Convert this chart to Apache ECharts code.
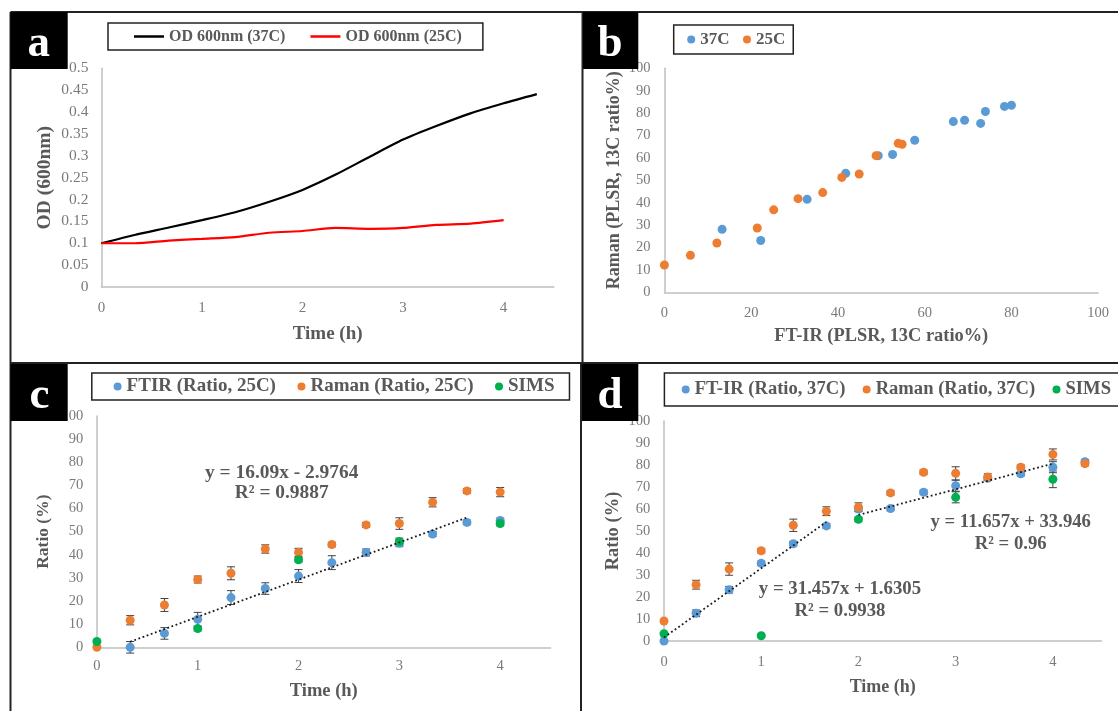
<!DOCTYPE html>
<html>
<head>
<meta charset="utf-8">
<title>Growth and 13C ratio</title>
<script src="https://cdn.jsdelivr.net/npm/echarts@6/dist/echarts.min.js"></script>
<style>
  html, body { margin: 0; padding: 0; background: #fff; }
  #main { width: 1118px; height: 711px; }
</style>
</head>
<body>
<div id="main"></div>
<script>
// shared time points (h)
const hours = [0, 0.33, 0.67, 1, 1.33, 1.67, 2, 2.33, 2.67, 3, 3.33, 3.67, 4, 4.33];
const simsHours = [0, 1, 2, 3, 4];

// panel a
const od37 = [0.1, 0.119, 0.136, 0.153, 0.171, 0.195, 0.222, 0.257, 0.298, 0.337, 0.368, 0.397, 0.42, 0.441];
const od25 = [0.1, 0.1, 0.106, 0.11, 0.114, 0.124, 0.128, 0.135, 0.133, 0.135, 0.142, 0.145, 0.153];

// panel b
const ftir37 = [13.3, 22.2, 32.9, 41.8, 49.3, 52.6, 57.7, 66.6, 69.2, 72.9, 74, 78.4, 80];
const raman37 = [28.1, 23.1, 41.5, 53.1, 61, 61.5, 67.9, 76.2, 76.8, 75.4, 80.7, 83, 83.5];
const ftir25 = [0, 6, 12.1, 21.4, 25.2, 30.8, 36.5, 40.9, 44.9, 48.8, 53.9, 54.8];
const raman25 = [12.2, 16.5, 22, 28.7, 36.8, 41.8, 44.5, 51.3, 52.8, 61, 66.5, 66.1];

// panel c
const cFtir = [null, 0, 6, 12.1, 21.5, 25.4, 30.8, 36.6, 41, 45, 49, 54, 54.8];
const cFtirErr = [null, 2.5, 2.5, 3, 3, 2.5, 2.8, 3, 1.5, 1.5, 1, 1, 1];
const cRaman = [0, 11.7, 18.3, 29.3, 32, 42.5, 41, 44.4, 52.9, 53.5, 62.7, 67.6, 67.1];
const cRamanErr = [0, 2, 2.8, 1.5, 2.8, 1.8, 1.8, 1, 1, 2.5, 2, 1, 2];
const cSims = [2.5, 8.1, 37.8, 45.7, 53.5];
const cSimsErr = [0, 1, 1, 1.5, 1];
const cTrendX = [0.33, 3.67];
const cTrendY = [2.4, 56.1];

// panel d
const dFtir = [0, 12.6, 23.3, 35.3, 44.2, 52.3, 60, 60.2, 67.6, 70.6, 74, 76, 79, 81.5];
const dFtirErr = [0, 1.5, 1.5, 1, 1, 1, 1, 1, 1, 2.5, 1, 1, 2.5, 1];
const dRaman = [9.1, 25.6, 32.7, 41, 52.6, 59, 60.8, 67.3, 76.7, 76.2, 74.5, 79, 84.8, 80.6];
const dRamanErr = [0, 2, 2.8, 1, 2.8, 2, 2, 1, 1, 3, 1.5, 1, 2.5, 1];
const dSims = [3.3, 2.4, 55.3, 65.3, 73.5];
const dSimsErr = [0, 0.5, 1, 2.5, 3.8];
const dTrend1X = [0, 1.67];
const dTrend1Y = [1.63, 54.1];
const dTrend2X = [2, 4];
const dTrend2Y = [57.3, 80.6];

const BLUE = '#5B9BD5';
const ORANGE = '#ED7D31';
const GREEN = '#00B050';
const FONT = '"Liberation Serif", serif';
const TICK_COLOR = '#7a7a7a';
const TITLE_COLOR = '#595959';

function zip(xs, ys) {
    const out = [];
    for (let i = 0; i < ys.length; i++) {
        if (ys[i] !== null) out.push([xs[i], ys[i]]);
    }
    return out;
}

function zipErr(xs, ys, errs) {
    const out = [];
    for (let i = 0; i < ys.length; i++) {
        if (ys[i] !== null && errs[i] > 0) out.push([xs[i], ys[i], errs[i]]);
    }
    return out;
}

// whisker with a cap on both ends, in data coordinates
function errorBar(params, api) {
    const x = api.value(0), y = api.value(1), e = api.value(2);
    const hi = api.coord([x, y + e]);
    const lo = api.coord([x, y - e]);
    const cap = 4;
    const style = { stroke: '#404040', lineWidth: 1, fill: null };
    return {
        type: 'group',
        children: [
            { type: 'line', shape: { x1: hi[0], y1: hi[1], x2: lo[0], y2: lo[1] }, style: style },
            { type: 'line', shape: { x1: hi[0] - cap, y1: hi[1], x2: hi[0] + cap, y2: hi[1] }, style: style },
            { type: 'line', shape: { x1: lo[0] - cap, y1: lo[1], x2: lo[0] + cap, y2: lo[1] }, style: style }
        ]
    };
}

function errSeries(idx, data) {
    return {
        type: 'custom', xAxisIndex: idx, yAxisIndex: idx, data: data,
        renderItem: errorBar, encode: { x: 0, y: 1 }, z: 2, silent: true, clip: false
    };
}

function dots(idx, name, color, data) {
    return {
        type: 'scatter', name: name, xAxisIndex: idx, yAxisIndex: idx, data: data,
        symbolSize: 9, itemStyle: { color: color, opacity: 1 }, z: 3, clip: false
    };
}

function growth(idx, name, color, data) {
    return {
        type: 'line', name: name, xAxisIndex: idx, yAxisIndex: idx, data: data,
        smooth: 0.25, symbol: 'none', showSymbol: false,
        lineStyle: { color: color, width: 2.2 }, itemStyle: { color: color }, z: 3
    };
}

function trend(idx, xs, ys) {
    return {
        type: 'line', xAxisIndex: idx, yAxisIndex: idx, data: zip(xs, ys),
        symbol: 'none', lineStyle: { color: '#1a1a1a', width: 1.8, type: [1.8, 2.6] }, z: 4, silent: true
    };
}

function xAxis(idx, name, max, interval, gap, nameSize, tickSize, margin) {
    return {
        type: 'value', gridIndex: idx, min: 0, max: max, interval: interval,
        name: name, nameLocation: 'middle', nameGap: gap,
        nameTextStyle: { fontFamily: FONT, fontWeight: 'bold', fontSize: nameSize, color: TITLE_COLOR },
        axisLine: { show: true, onZero: false, lineStyle: { color: '#bfbfbf', width: 1.5 } },
        axisTick: { show: false },
        splitLine: { show: false },
        axisLabel: { fontFamily: FONT, fontSize: tickSize, color: TICK_COLOR, margin: margin, showMaxLabel: max === 100 }
    };
}

function yAxis(idx, name, max, interval, gap, nameSize, tickSize, margin) {
    return {
        type: 'value', gridIndex: idx, min: 0, max: max, interval: interval,
        name: name, nameLocation: 'middle', nameGap: gap,
        nameTextStyle: { fontFamily: FONT, fontWeight: 'bold', fontSize: nameSize, color: TITLE_COLOR },
        axisLine: { show: true, onZero: false, lineStyle: { color: '#bfbfbf', width: 1.5 } },
        axisTick: { show: false },
        splitLine: { show: false },
        axisLabel: { fontFamily: FONT, fontSize: tickSize, color: TICK_COLOR, margin: margin }
    };
}

function legendBox(left, top, padding, gap, fontSize, names, icon, iconW, iconH) {
    return {
        left: left, top: top, width: 600, padding: padding, itemGap: gap, icon: icon,
        itemWidth: iconW, itemHeight: iconH, data: names,
        borderColor: '#222', borderWidth: 1.5, backgroundColor: '#fff', selectedMode: false,
        textStyle: { fontFamily: FONT, fontWeight: 'bold', fontSize: fontSize, color: TITLE_COLOR }
    };
}

function panelTag(x, y, w, h, letter, letterX, baseline) {
    return [
        { type: 'rect', z: 100, shape: { x: x, y: y, width: w, height: h }, style: { fill: '#000' } },
        {
            type: 'text', z: 101, x: letterX, y: baseline + 9,
            style: { text: letter, fill: '#fff', font: 'bold 45px ' + FONT, textAlign: 'center', textVerticalAlign: 'bottom' }
        }
    ];
}

function note(x, y, lines, size, lineHeight) {
    return {
        type: 'text', z: 50, x: x, y: y,
        style: { text: lines, fill: TITLE_COLOR, font: 'bold ' + size + 'px ' + FONT, textAlign: 'center', lineHeight: lineHeight }
    };
}

function frameLine(x1, y1, x2, y2) {
    return { type: 'line', z: 90, shape: { x1: x1, y1: y1, x2: x2, y2: y2 }, style: { stroke: '#222', lineWidth: 2 } };
}

function show(el) {
    const myChart = echarts.init(el);
    const option = {
        animation: false,
        backgroundColor: '#fff',
        grid: [
            { left: 101.4, top: 68.3, width: 452.5, height: 218.7 },
            { left: 664.4, top: 68.3, width: 433.8, height: 224 },
            { left: 96.9, top: 416, width: 453.7, height: 231.3 },
            { left: 664, top: 421, width: 437.5, height: 220 }
        ],
        xAxis: [
            xAxis(0, 'Time (h)', 4.5, 1, 38, 19, 15, 14),
            xAxis(1, 'FT-IR (PLSR, 13C ratio%)', 100, 20, 35, 18.4, 14.5, 13),
            xAxis(2, 'Time (h)', 4.5, 1, 34, 18.5, 14.5, 11),
            xAxis(3, 'Time (h)', 4.5, 1, 37, 18, 14.5, 14)
        ],
        yAxis: [
            yAxis(0, 'OD (600nm)', 0.5, 0.05, 46, 19.5, 15.5, 13),
            yAxis(1, 'Raman (PLSR, 13C ratio%)', 100, 10, 41, 18, 14.5, 14),
            yAxis(2, 'Ratio (%)', 100, 10, 44, 17.5, 14.5, 13.7),
            yAxis(3, 'Ratio (%)', 100, 10, 41, 18.5, 14.5, 13.7)
        ],
        legend: [
            legendBox(108, 23, [5.5, 21, 5.5, 26], 25, 16, ['OD 600nm (37C)', 'OD 600nm (25C)'], 'rect', 30, 2.5),
            legendBox(673.7, 25, [6, 8, 6, 13.5], 13.5, 17, ['37C', '25C'], 'circle', 8, 8),
            legendBox(91.8, 373, [4, 15, 4, 21.8], 21.5, 19, ['FTIR (Ratio, 25C)', 'Raman (Ratio, 25C)', 'SIMS'], 'circle', 8, 8),
            legendBox(664.4, 373, [7, 30, 7, 17.3], 17.3, 18.6, ['FT-IR (Ratio, 37C)', 'Raman (Ratio, 37C)', 'SIMS'], 'circle', 8, 8)
        ],
        series: [
            growth(0, 'OD 600nm (37C)', '#000000', zip(hours, od37)),
            growth(0, 'OD 600nm (25C)', '#FF0000', zip(hours, od25)),

            dots(1, '37C', BLUE, zip(ftir37, raman37)),
            dots(1, '25C', ORANGE, zip(ftir25, raman25)),

            errSeries(2, zipErr(hours, cFtir, cFtirErr)),
            errSeries(2, zipErr(hours, cRaman, cRamanErr)),
            errSeries(2, zipErr(simsHours, cSims, cSimsErr)),
            dots(2, 'FTIR (Ratio, 25C)', BLUE, zip(hours, cFtir)),
            dots(2, 'Raman (Ratio, 25C)', ORANGE, zip(hours, cRaman)),
            dots(2, 'SIMS', GREEN, zip(simsHours, cSims)),
            trend(2, cTrendX, cTrendY),

            errSeries(3, zipErr(hours, dFtir, dFtirErr)),
            errSeries(3, zipErr(hours, dRaman, dRamanErr)),
            errSeries(3, zipErr(simsHours, dSims, dSimsErr)),
            dots(3, 'FT-IR (Ratio, 37C)', BLUE, zip(hours, dFtir)),
            dots(3, 'Raman (Ratio, 37C)', ORANGE, zip(hours, dRaman)),
            dots(3, 'SIMS', GREEN, zip(simsHours, dSims)),
            trend(3, dTrend1X, dTrend1Y),
            trend(3, dTrend2X, dTrend2Y)
        ],
        graphic: {
            elements: [
                frameLine(10.5, 12, 1118, 12),
                frameLine(10.5, 12, 10.5, 711),
                frameLine(582.5, 12, 582.5, 363),
                frameLine(10.5, 363, 1118, 363),
                frameLine(581, 363, 581, 711)
            ].concat(
                panelTag(10.5, 12, 57.2, 57, 'a', 38.8, 58),
                panelTag(583, 12, 55.3, 57, 'b', 610, 58),
                panelTag(10.5, 364, 57.2, 57, 'c', 39.6, 410),
                panelTag(582, 364, 56.3, 57, 'd', 610, 410),
                [
                    note(281.7, 463, 'y = 16.09x - 2.9764\nR² = 0.9887', 19.4, 20),
                    note(1010.7, 511, 'y = 11.657x + 33.946\nR² = 0.96', 18.7, 22),
                    note(840, 578, 'y = 31.457x + 1.6305\nR² = 0.9938', 18.8, 22)
                ]
            )
        }
    };
    myChart.setOption(option);
}

show(document.getElementById('main'));
</script>
</body>
</html>
